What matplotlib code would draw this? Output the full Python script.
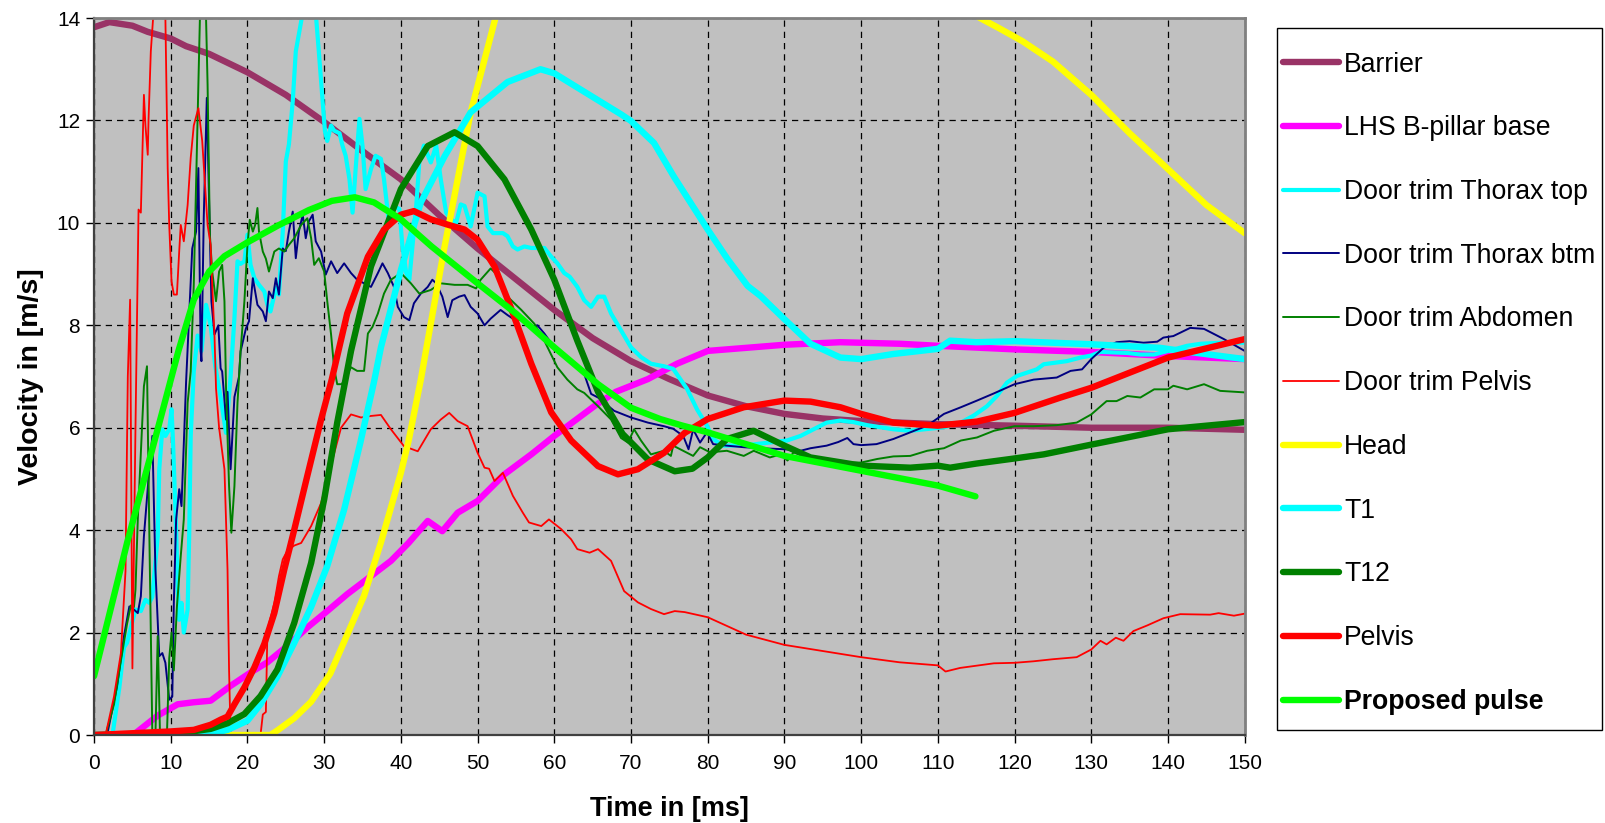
import matplotlib
matplotlib.use("Agg")
import matplotlib.pyplot as plt
from matplotlib import font_manager
from matplotlib.patches import Rectangle

# ---------------- data (time in ms, velocity in m/s) ----------------
barrier = [(0, 13.82), (2, 13.92), (5, 13.85), (7, 13.73), (10, 13.6), (12, 13.45), (15, 13.3),
           (20, 12.94), (25, 12.5), (30, 11.97), (35, 11.4), (40, 10.85), (45, 10.15), (50, 9.5),
           (55, 8.9), (60, 8.3), (65, 7.75), (70, 7.3), (75, 6.95), (80, 6.63), (85, 6.42),
           (90, 6.27), (95, 6.18), (100, 6.13), (110, 6.07), (120, 6.04), (130, 6.0), (140, 6.0),
           (150, 5.96)]

bpillar = [(0, 0), (5.1, 0.0), (8.3, 0.38), (10.9, 0.6), (13, 0.64), (15.2, 0.67), (17.8, 0.96),
           (20.4, 1.22), (22.6, 1.42), (25.2, 1.74), (27.8, 2.1), (30.4, 2.42), (33, 2.75),
           (35.2, 3.0), (38.7, 3.4), (41, 3.75), (43.5, 4.18), (45.4, 3.98), (47.4, 4.34),
           (50, 4.57), (53.5, 5.09), (57, 5.48), (60, 5.84), (65.2, 6.42), (68, 6.7), (72.2, 6.95),
           (76, 7.25), (80, 7.5), (85, 7.56), (90, 7.62), (97.3, 7.67), (105, 7.64), (110, 7.6),
           (120, 7.53), (130, 7.48), (140, 7.4), (150, 7.34)]

door_top = [(0, 0), (2.4, 0), (3.3, 0.93), (3.9, 1.71), (4.3, 1.8), (4.8, 2.1), (5.4, 2.45),
            (6.1, 2.42), (6.7, 2.64), (7.2, 2.58), (7.6, 2.7), (8.3, 3.88), (8.5, 5.19), (8.9, 5.97),
            (9.3, 5.84), (9.8, 5.97), (10.1, 6.36), (10.3, 5.7), (10.7, 4.0), (10.9, 2.9),
            (11.1, 2.25), (11.4, 2.58), (11.7, 2.0), (12.2, 2.45), (12.4, 3.88), (12.6, 5.84),
            (13.0, 7.1), (13.5, 7.8), (14.0, 7.5), (14.6, 8.4), (15.2, 8.0), (15.8, 7.2),
            (16.5, 6.6), (17.2, 5.9), (17.8, 7.0), (18.3, 8.14), (18.7, 9.25), (19.1, 9.2),
            (19.6, 9.25), (20.0, 9.77), (20.4, 9.18), (20.9, 8.92), (21.5, 8.79), (22.2, 8.66),
            (22.6, 8.4), (23.0, 8.27), (23.7, 8.73), (24.1, 8.6), (24.6, 9.83), (25.0, 11.2),
            (25.4, 11.53), (25.9, 12.37), (26.3, 13.35), (27.2, 14.1), (28.0, 14.8), (28.9, 14.1),
            (29.3, 13.35), (29.8, 12.37), (30.1, 11.79), (30.4, 11.6), (30.9, 11.9), (31.3, 11.8),
            (32.0, 11.75), (32.4, 11.5), (32.8, 11.31), (33.3, 10.85), (33.7, 10.2), (34.1, 11.05),
            (34.6, 12.03), (35.0, 11.5), (35.4, 10.66), (36.1, 11.05), (36.7, 11.31), (37.4, 11.25),
            (37.8, 10.85), (38.5, 9.93), (39.1, 10.33), (39.8, 10.27), (40.2, 9.54), (40.7, 9.02),
            (41.1, 8.89), (41.5, 9.54), (42.0, 10.33), (42.4, 11.18), (43.0, 11.51), (43.9, 11.18),
            (44.6, 11.51), (45.2, 10.85), (45.9, 10.2), (46.5, 10.07), (47.2, 10.0), (47.8, 10.36),
            (48.3, 10.33), (49.1, 9.93), (50.0, 10.59), (50.9, 10.52), (51.3, 9.93), (52.0, 9.8),
            (53.3, 9.8), (53.9, 9.74), (54.6, 9.54), (55.2, 9.48), (56.1, 9.54), (57.0, 9.51),
            (58.7, 9.51), (59.6, 9.34), (60.4, 9.21), (61.3, 9.02), (62.0, 8.95), (63.0, 8.75),
            (63.9, 8.49), (64.8, 8.36), (65.7, 8.56), (66.5, 8.56), (67.4, 8.23), (68.7, 7.9),
            (70.0, 7.57), (71.3, 7.38), (72.6, 7.25), (74.3, 7.2), (75.5, 7.15), (77.3, 6.76),
            (78.6, 6.36), (79.9, 6.04), (80.7, 5.78), (82.0, 5.65), (85.1, 5.66), (88.6, 5.72),
            (90.3, 5.75), (92.1, 5.84), (93.8, 5.97), (95.5, 6.1), (97.3, 6.14), (99.0, 6.11),
            (100.8, 6.05), (104.2, 5.97), (106.4, 5.94), (110.8, 6.01), (113.0, 6.1), (114.7, 6.24),
            (116.4, 6.42), (117.7, 6.62), (119.0, 6.88), (120.3, 7.01), (122.9, 7.14),
            (123.8, 7.24), (126.8, 7.3), (128.6, 7.37), (130.0, 7.41), (131.2, 7.48), (134.7, 7.46),
            (136.4, 7.43), (138.2, 7.43), (140.8, 7.53), (142.5, 7.6), (144.3, 7.64), (147, 7.66),
            (150, 7.66)]

door_btm = [(0, 0), (1.7, 0), (3.0, 0.95), (3.9, 1.93), (4.6, 2.51), (5.2, 2.45), (5.7, 2.38),
            (6.1, 2.71), (6.5, 3.88), (7.2, 5.19), (7.6, 5.84), (8.0, 3.23), (8.5, 1.54), (8.9, 1.6),
            (9.3, 1.41), (9.8, 0.69), (10.2, 0.75), (10.4, 2.58), (10.7, 4.21), (11.1, 4.8),
            (11.4, 4.47), (12.0, 6.9), (12.8, 9.5), (13.3, 9.83), (13.6, 11.07), (13.9, 7.49),
            (14.0, 7.3), (14.3, 10.1), (14.7, 12.44), (15.0, 10.4), (15.3, 8.47), (15.7, 7.82),
            (16.2, 8.0), (16.5, 7.16), (16.7, 7.1), (17.2, 6.16), (17.4, 6.7), (17.8, 5.19),
            (18.3, 6.6), (18.9, 7.0), (19.1, 7.49), (19.8, 7.94), (20.2, 8.08), (20.7, 8.92),
            (21.3, 8.4), (22.0, 8.27), (22.4, 8.08), (22.8, 8.66), (23.3, 8.53), (23.7, 8.92),
            (24.1, 8.6), (24.6, 9.5), (25.0, 9.45), (25.4, 9.83), (25.9, 10.22), (26.3, 9.31),
            (26.7, 9.83), (27.2, 10.16), (27.6, 9.7), (28.0, 10.03), (28.5, 10.16), (28.9, 9.64),
            (29.6, 9.44), (30.2, 8.99), (30.9, 9.25), (31.7, 9.02), (32.6, 9.21), (33.5, 9.02),
            (34.3, 8.89), (35.2, 8.82), (36.1, 8.75), (37.0, 9.02), (37.6, 9.21), (38.3, 9.02),
            (39.1, 8.75), (39.6, 8.36), (40.4, 8.16), (41.1, 8.1), (41.7, 8.43), (42.6, 8.62),
            (43.5, 8.75), (44.1, 8.89), (44.6, 8.82), (45.4, 8.56), (46.1, 8.16), (46.7, 8.49),
            (47.6, 8.56), (48.3, 8.59), (49.1, 8.36), (50.0, 8.23), (50.9, 8.0), (51.7, 8.13),
            (53.0, 8.3), (53.9, 8.2), (54.6, 8.13), (55.7, 8.1), (57.0, 7.97), (57.8, 8.0),
            (58.7, 7.84), (60.0, 7.57), (61.3, 7.38), (62.6, 7.25), (63.9, 7.05), (64.8, 6.66),
            (65.7, 6.59), (67.8, 6.33), (70.0, 6.2), (72.2, 6.1), (74.3, 6.03), (75.5, 5.98),
            (76.8, 5.84), (77.5, 5.58), (78.1, 5.97), (79.0, 5.71), (79.9, 5.91), (80.7, 5.68),
            (82.5, 5.65), (84.7, 5.62), (86.8, 5.6), (90.0, 5.58), (92.1, 5.55), (93.4, 5.6),
            (95.5, 5.65), (97.0, 5.72), (98.2, 5.8), (99.0, 5.68), (100.0, 5.66), (102.0, 5.68),
            (104.2, 5.78), (106.4, 5.91), (108.6, 6.04), (110.8, 6.27), (113.0, 6.4), (115.1, 6.53),
            (117.3, 6.67), (120.0, 6.85), (122.5, 6.94), (125.5, 6.98), (127.3, 7.11),
            (128.8, 7.14), (130.0, 7.34), (131.6, 7.56), (133.3, 7.67), (135.0, 7.69),
            (136.8, 7.66), (138.6, 7.68), (139.4, 7.76), (140.7, 7.79), (142.9, 7.95),
            (144.7, 7.93), (147.3, 7.73), (150, 7.5)]

door_abd = [(0, 0), (1.5, 0), (2.6, 0.6), (3.5, 1.45), (4.3, 2.17), (4.8, 2.53), (5.2, 2.5),
            (5.4, 2.84), (5.7, 4.21), (6.1, 5.51), (6.5, 6.81), (6.9, 7.2), (7.2, 4.0), (7.6, 0),
            (8.0, 0), (8.3, 1.93), (8.6, 0), (9.5, 0), (9.8, 1.5), (10.1, 2.0), (10.4, 1.26),
            (10.8, 2.5), (11.3, 3.49), (11.7, 4.21), (12.2, 6.49), (12.6, 7.1), (13.0, 8.8),
            (13.5, 12.05), (13.8, 14.0), (14.2, 14.6), (14.6, 14.0), (14.8, 12.7), (15.1, 9.77),
            (15.4, 9.05), (15.9, 8.47), (16.3, 9.05), (16.7, 9.18), (17.0, 8.47), (17.2, 6.8),
            (17.6, 4.86), (17.9, 3.95), (18.3, 4.86), (18.7, 6.49), (19.1, 7.49), (19.6, 8.47),
            (20.0, 9.57), (20.3, 10.06), (20.7, 9.83), (21.0, 9.96), (21.3, 10.29), (21.5, 9.83),
            (22.0, 9.44), (22.4, 9.3), (22.8, 9.05), (23.5, 9.44), (24.1, 9.5), (24.8, 9.44),
            (25.4, 9.57), (26.1, 9.7), (27.0, 9.96), (27.8, 10.09), (28.3, 9.7), (28.7, 9.18),
            (29.3, 9.31), (30.0, 9.05), (30.4, 8.47), (30.9, 7.82), (31.3, 7.16), (31.7, 6.85),
            (32.3, 6.85), (33.5, 7.18), (34.3, 7.11), (35.2, 7.11), (35.7, 7.84), (36.3, 7.97),
            (37.0, 8.23), (37.8, 8.62), (38.7, 8.89), (40.0, 9.02), (41.3, 8.82), (42.4, 8.62),
            (43.9, 8.69), (45.2, 8.82), (47.0, 8.79), (48.7, 8.79), (49.8, 8.72), (50.4, 8.89),
            (51.7, 9.11), (52.6, 8.98), (53.9, 8.56), (55.7, 8.3), (57.4, 8.03), (58.7, 7.7),
            (60.4, 7.18), (61.7, 6.94), (63.0, 6.75), (63.9, 6.68), (65.7, 6.42), (67.4, 6.16),
            (68.7, 5.8), (69.6, 5.71), (70.4, 5.97), (71.3, 5.75), (72.6, 5.48), (74.3, 5.55),
            (75.2, 5.45), (75.5, 5.65), (76.8, 5.55), (78.1, 5.45), (79.0, 5.62), (80.3, 5.52),
            (82.5, 5.55), (84.7, 5.45), (86.0, 5.55), (88.1, 5.42), (89.5, 5.48), (90.4, 5.36),
            (91.2, 5.52), (93.4, 5.42), (95.5, 5.39), (98.2, 5.32), (100.0, 5.32), (102.1, 5.39),
            (104.2, 5.44), (106.4, 5.45), (108.6, 5.55), (110.8, 5.6), (113.0, 5.75),
            (115.1, 5.81), (117.3, 5.94), (120.0, 6.03), (122.5, 6.03), (125.5, 6.05),
            (128.1, 6.1), (130.0, 6.26), (132.0, 6.52), (133.3, 6.52), (134.7, 6.62),
            (136.4, 6.59), (138.2, 6.75), (140.0, 6.75), (140.7, 6.82), (142.5, 6.75),
            (144.7, 6.85), (146.8, 6.72), (150, 6.69)]

door_pelvis = [(0, 0), (1.5, 0), (2.6, 0.75), (3.5, 1.6), (4.1, 3.2), (4.4, 7.0), (4.7, 8.5),
               (5.0, 1.3), (5.4, 6.0), (5.8, 10.26), (6.1, 10.2), (6.5, 12.5), (6.7, 11.9),
               (7.0, 11.33), (7.1, 12.0), (7.4, 13.35), (7.7, 14.0), (8.5, 15.0), (9.3, 14.0),
               (9.6, 11.07), (9.8, 9.96), (10.1, 8.86), (10.4, 8.6), (10.8, 8.6), (11.1, 9.44),
               (11.3, 9.96), (11.7, 9.64), (12.2, 10.35), (12.6, 11.27), (13.0, 11.9),
               (13.6, 12.24), (14.1, 11.6), (14.8, 9.96), (15.2, 9.57), (15.4, 8.8), (15.7, 7.8),
               (15.9, 6.77), (16.3, 6.0), (17.0, 5.19), (17.4, 3.23), (17.6, 1.27), (17.8, 0),
               (21.7, 0), (22.0, 0.4), (22.4, 0.45), (22.6, 2.05), (23.5, 2.58), (24.1, 3.1),
               (24.6, 3.43), (25.2, 3.6), (26.1, 3.7), (27.0, 3.75), (28.3, 4.08), (29.6, 4.53),
               (31.3, 5.5), (32.2, 6.0), (33.5, 6.26), (34.8, 6.2), (36.1, 6.23), (37.4, 6.25),
               (38.7, 5.97), (40.4, 5.64), (42.2, 5.54), (43.9, 5.97), (45.2, 6.16), (46.3, 6.29),
               (47.4, 6.13), (48.7, 6.03), (50.0, 5.51), (50.9, 5.22), (51.5, 5.2), (52.2, 4.96),
               (53.3, 5.12), (54.6, 4.67), (55.9, 4.34), (56.7, 4.15), (58.3, 4.08), (59.3, 4.21),
               (60.9, 4.02), (62.2, 3.82), (63.0, 3.63), (64.6, 3.56), (65.7, 3.63), (67.4, 3.4),
               (69.1, 2.81), (70.9, 2.59), (72.6, 2.46), (74.3, 2.36), (75.7, 2.42), (77.0, 2.4),
               (80.0, 2.3), (85.0, 1.96), (90.0, 1.76), (95.0, 1.64), (100.0, 1.52), (105.0, 1.42),
               (110.0, 1.36), (111.0, 1.24), (112.9, 1.31), (117.3, 1.4), (120.0, 1.41),
               (122.5, 1.44), (125.0, 1.48), (128.1, 1.52), (130.0, 1.67), (131.2, 1.84),
               (132.0, 1.77), (133.2, 1.9), (134.2, 1.84), (135.5, 2.03), (137.3, 2.14),
               (139.4, 2.28), (141.6, 2.36), (145.5, 2.35), (146.6, 2.38), (148.6, 2.33),
               (150, 2.37)]

head = [(0, 0), (23, 0), (24, 0.1), (26.1, 0.33), (28.3, 0.65), (30.8, 1.2), (32.6, 1.82),
        (35.2, 2.72), (37.4, 3.76), (40, 5.12), (41, 5.74), (42.6, 6.94), (43.5, 7.7),
        (45.7, 9.54), (47.4, 10.85), (49.1, 12.16), (50.4, 12.9), (52.5, 14.1), (55, 15.2),
        (60, 16.3), (65, 16.8), (75, 16.9), (85, 16.5), (95, 15.8), (105, 15.0), (112, 14.35),
        (115.5, 14.0), (118, 13.8), (121, 13.55), (125, 13.15), (130, 12.5), (135, 11.75),
        (140, 11.05), (145, 10.35), (150, 9.8)]

t1 = [(0, 0), (13, 0), (15, 0.02), (17.4, 0.1), (20, 0.28), (21.7, 0.6), (23.9, 1.14),
      (26.1, 1.8), (28.3, 2.5), (30.4, 3.3), (32.6, 4.4), (34.7, 5.7), (36.5, 6.9), (37.4, 7.57),
      (40, 9.08), (42.6, 10.4), (45.7, 11.3), (49.1, 12.16), (53.9, 12.75), (58.2, 13.0),
      (60, 12.92), (65, 12.46), (68.7, 12.12), (70, 11.99), (73, 11.56), (75.6, 10.9),
      (80, 9.87), (82.6, 9.29), (85.2, 8.77), (86.9, 8.57), (90, 8.12), (93.4, 7.64),
      (97.3, 7.37), (100, 7.34), (104.2, 7.44), (110, 7.54), (111.6, 7.7), (115, 7.67),
      (120, 7.69), (130, 7.63), (139, 7.56), (143.3, 7.47), (150, 7.34)]

t12 = [(0, 0), (10.9, 0.03), (15.2, 0.12), (17.4, 0.23), (19.6, 0.41), (21.7, 0.76),
       (23.9, 1.28), (26.1, 2.19), (28.3, 3.36), (30, 4.6), (31.7, 6.1), (33.5, 7.5),
       (36.1, 9.15), (40, 10.66), (43.5, 11.5), (47, 11.77), (50, 11.5), (53.5, 10.85),
       (57, 9.87), (60, 8.89), (63, 7.7), (65.7, 6.7), (68.9, 5.88), (72.2, 5.38), (75.7, 5.15),
       (78, 5.2), (80, 5.42), (82.5, 5.78), (86, 5.94), (90, 5.65), (93.4, 5.42), (100, 5.26),
       (106.4, 5.22), (110, 5.26), (111.6, 5.22), (115, 5.3), (119.5, 5.39), (123.8, 5.48),
       (130, 5.67), (140, 5.97), (150, 6.11)]

pelvis = [(0, 0), (10, 0.07), (13, 0.1), (15.2, 0.2), (16.5, 0.3), (17.4, 0.36), (18.3, 0.6),
          (19.6, 0.93), (20.9, 1.32), (22.2, 1.78), (23.5, 2.38), (24.8, 3.23), (26.1, 4.01),
          (27.8, 5.06), (29.6, 6.16), (31, 6.95), (33, 8.23), (35.7, 9.34), (37.8, 9.87),
          (40, 10.16), (41.7, 10.23), (43.9, 10.07), (46, 9.97), (48.3, 9.87), (50, 9.67),
          (52.2, 9.15), (54.3, 8.36), (57, 7.25), (59.6, 6.3), (62.2, 5.75), (65.7, 5.25),
          (68.3, 5.09), (70.9, 5.19), (74.3, 5.51), (77, 5.9), (80, 6.17), (84.7, 6.4),
          (90, 6.53), (93.4, 6.51), (97.3, 6.4), (100, 6.27), (104.2, 6.1), (110, 6.04),
          (115.1, 6.12), (120, 6.29), (126, 6.59), (130, 6.78), (140, 7.37), (150, 7.73)]

pulse = [(0, 1.15), (4.3, 3.75), (8.7, 6.2), (11, 7.5), (13, 8.5), (15, 9.05), (17, 9.35),
         (20, 9.62), (24, 9.95), (28, 10.25), (31, 10.43), (34, 10.5), (36.5, 10.4), (40, 10.07),
         (44, 9.54), (50, 8.82), (55, 8.23), (60, 7.57), (65.7, 6.85), (70, 6.39), (73.8, 6.17),
         (76.5, 6.05), (80, 5.91), (90, 5.45), (100, 5.16), (110, 4.87), (114.9, 4.66)]

labels = ["Barrier", "LHS B-pillar base", "Door trim Thorax top", "Door trim Thorax btm",
          "Door trim Abdomen", "Door trim Pelvis", "Head", "T1", "T12", "Pelvis",
          "Proposed pulse"]
x_ticks = list(range(0, 151, 10))
y_ticks = list(range(0, 15, 2))

# ---------------- styling ----------------
series = [barrier, bpillar, door_top, door_btm, door_abd, door_pelvis, head, t1, t12, pelvis, pulse]
colors = ["#993366", "#FF00FF", "#00FFFF", "#000080", "#008000", "#FF0000", "#FFFF00",
          "#00FFFF", "#008000", "#FF0000", "#00FF00"]
widths = [4.6, 4.6, 3.0, 1.4, 1.4, 1.3, 4.6, 4.6, 4.6, 4.6, 4.6]

avail = {f.name for f in font_manager.fontManager.ttflist}
narrow = "Liberation Sans Narrow" if "Liberation Sans Narrow" in avail else "Liberation Sans"
plt.rcParams["font.family"] = ["Liberation Sans", "DejaVu Sans"]

W, H = 1605, 823
fig = plt.figure(figsize=(W / 100, H / 100), dpi=100)
ax = fig.add_axes([0.0586, 0.1069, 0.7169, 0.8712])
ax.set_facecolor("#C0C0C0")

handles = []
for data, c, w, lab in zip(series, colors, widths, labels):
    t, v = zip(*data)
    ln, = ax.plot(t, v, color=c, lw=w, label=lab, solid_capstyle="round",
                  solid_joinstyle="round")
    handles.append(ln)

ax.set_xlim(0, 150)
ax.set_ylim(0, 14)
ax.set_xticks(x_ticks)
ax.set_yticks(y_ticks)
ax.grid(True, color="black", linestyle=(0, (5, 4)), linewidth=0.9)
ax.set_axisbelow(True)
for s in ["top", "right"]:
    ax.spines[s].set_color("#808080")
    ax.spines[s].set_linewidth(2)
for s in ["left", "bottom"]:
    ax.spines[s].set_color("#404040")
    ax.spines[s].set_linewidth(1.6)
ax.tick_params(direction="out", length=6, width=1, color="black", pad=4)
for lbl in ax.get_xticklabels() + ax.get_yticklabels():
    lbl.set_fontfamily(narrow)
    lbl.set_fontsize(15)
ax.tick_params(axis="x", pad=8)

ax.set_xlabel("Time in [ms]", fontsize=19.5, fontweight="bold", family=narrow, labelpad=16)
ax.set_ylabel("Velocity in [m/s]", fontsize=20.5, fontweight="bold", family=narrow, labelpad=9)

# legend frame (drawn separately so its box matches the reference exactly)
x0, y0, x1, y1 = 1276.5, 27.6, 1602.0, 730.0
fig.patches.append(Rectangle((x0 / W, 1 - y1 / H), (x1 - x0) / W, (y1 - y0) / H,
                             transform=fig.transFigure, facecolor="white",
                             edgecolor="black", linewidth=1.0, zorder=0))
leg = fig.legend(handles=handles, loc="upper left",
                 bbox_to_anchor=(1283.0 / W, 1 - 51.5 / H), bbox_transform=fig.transFigure,
                 frameon=False, borderaxespad=0, borderpad=0, fontsize=19.2,
                 labelspacing=1.415, handlelength=2.1, handletextpad=0.2)
leg.get_texts()[-1].set_fontweight("bold")

fig.savefig("out.png", dpi=100, facecolor="white")
